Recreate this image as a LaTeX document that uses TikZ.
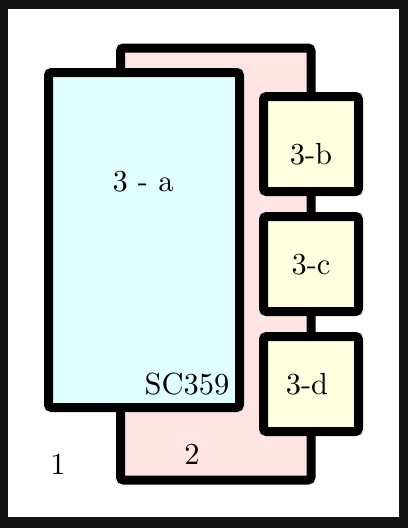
\documentclass[tikz,border=0pt]{standalone}
\usepackage{xcolor}
\usepackage{tikz}
\usetikzlibrary{positioning}
\definecolor{framegray}{RGB}{20, 20, 20}
\definecolor{zonepink}{RGB}{255, 228, 228}
\definecolor{roomcyan}{RGB}{224, 255, 255}
\definecolor{cellyellow}{RGB}{255, 255, 224}
\font\lblfont=cmr10 at 30.5pt

\begin{document}
\begin{tikzpicture}[
      x=1pt, y=-1pt,
      node distance=16pt,
      zone/.style={draw=black, line width=9pt, rounded corners=3pt, inner sep=0pt},
      big/.style={zone, fill=roomcyan, minimum width=191pt, minimum height=335pt},
      back/.style={zone, fill=zonepink, minimum width=190.5pt, minimum height=432pt},
      cell/.style={zone, fill=cellyellow, minimum width=95pt, minimum height=95pt},
      lbl/.style={font=\lblfont, inner sep=0pt}
    ]
    \useasboundingbox (0,0) rectangle (408,528);
    \fill[framegray] (0,0) rectangle (408,528);
    \fill[white] (8,9) rectangle (399,517);

    %% Boxes
    \node[back] (z2)  at (215.75,264) {};
    \node[big]  (z3a) at (144,240) {};
    \node[cell] (z3b) at (311,144) {};
    \node[cell, below=of z3b] (z3c) {};
    \node[cell, below=of z3c] (z3d) {};

    %% Labels
    \node[lbl] (t1)   at (58,465)  {1};
    \node[lbl] (t2)   at (192,455) {2};
    \node[lbl] (t3a)  at (143,182) {3 - a};
    \node[lbl] (tsc)  at (187,384) {SC359};
    \node[lbl] (t3b)  at ([yshift=-10pt]z3b) {3-b};
    \node[lbl] (t3c)  at ([yshift=-1pt]z3c) {3-c};
    \node[lbl] (t3d)  at ([xshift=-4pt]z3d) {3-d};
  \end{tikzpicture}
\end{document}
